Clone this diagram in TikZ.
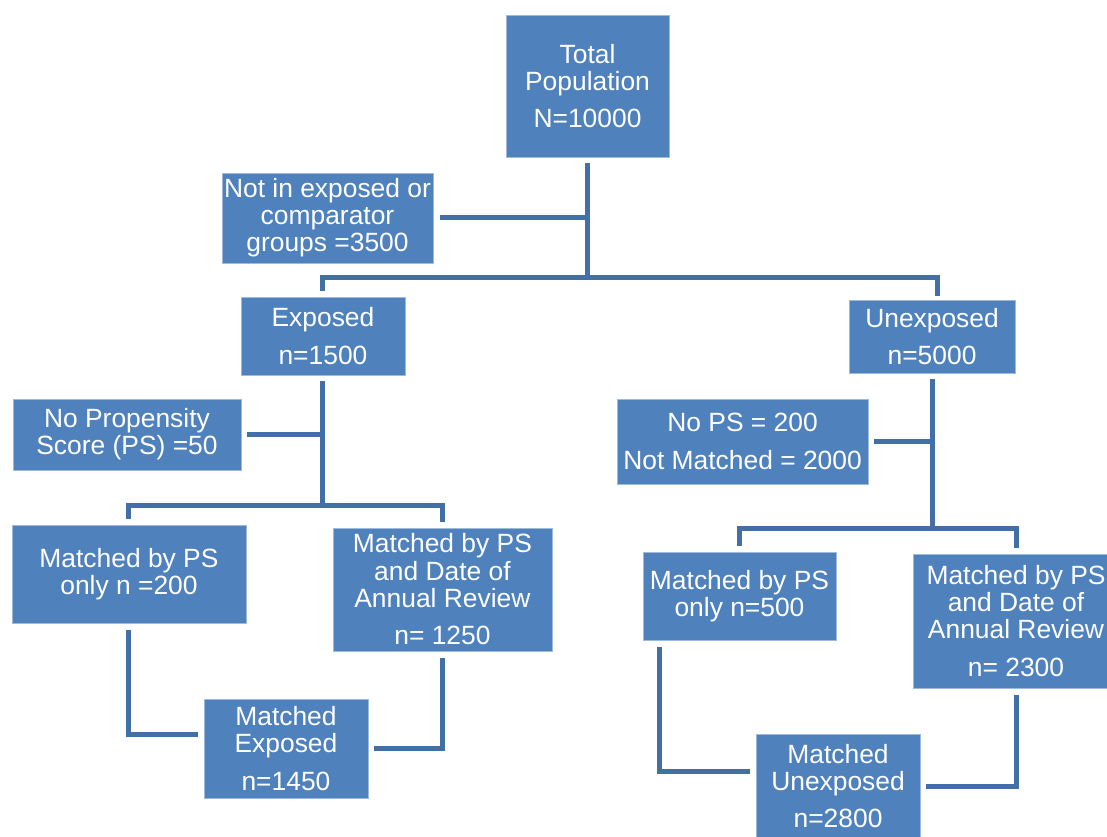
\documentclass[tikz,border=0pt]{standalone}
\usepackage{fontspec}
\setmainfont{Liberation Sans}
\usetikzlibrary{positioning}
\definecolor{boxblue}{RGB}{79,129,189}
\definecolor{lineblue}{RGB}{66,112,166}

\begin{document}
\begin{tikzpicture}[x=0.75pt,y=-0.75pt,on grid,
    box/.style={rectangle,fill=boxblue,draw=boxblue!55!white,line width=0.6pt,text=white,
      align=center,inner sep=0pt,font=\fontsize{19.8}{20.3}\selectfont},
    link/.style={draw=lineblue,line width=3.75pt}]
  \useasboundingbox (0,0) rectangle (1107,837);

  \node[box,minimum width=122.25pt,minimum height=106.5pt] (total) at (587.5,86) {Total\\Population\\[8pt]N=10000};
  \node[box,minimum width=158.25pt,minimum height=67.5pt]  (notin)  [below left=99pt and 195pt of total]     {Not in exposed or\\comparator\\groups =3500};
  \node[box,minimum width=123pt,minimum height=58.5pt]     (exp)    [below left=187.5pt and 198.4pt of total] {Exposed\\[8pt]n=1500};
  \node[box,minimum width=124.5pt,minimum height=54.75pt]  (unexp)  [below right=187.9pt and 258.4pt of total] {Unexposed\\[8pt]n=5000};
  \node[box,minimum width=171pt,minimum height=53.25pt]    (nops)   [below left=73.9pt and 147pt of exp]      {No Propensity\\Score (PS) =50};
  \node[box,minimum width=188.25pt,minimum height=63.75pt] (nops2)  [below left=78.75pt and 142.1pt of unexp] {No PS = 200\\[8pt]Not Matched = 2000};
  \node[box,minimum width=175.5pt,minimum height=73.5pt]   (mps1)   [below left=178.5pt and 145.5pt of exp]   {Matched by PS\\only n =200};
  \node[box,minimum width=164.25pt,minimum height=92.25pt] (mpsd1)  [below right=190.1pt and 89.6pt of exp]  {Matched by PS\\and Date of\\Annual Review\\[8pt]n= 1250};
  \node[box,minimum width=123pt,minimum height=74.25pt]    (mexp)   [below right=130.9pt and 117.75pt of mps1] {Matched\\Exposed\\[8pt]n=1450};
  \node[box,minimum width=144.75pt,minimum height=66pt]    (mps2)   [below left=194.6pt and 144.4pt of unexp] {Matched by PS\\only n=500};
  \node[box,minimum width=154.5pt,minimum height=100.5pt]  (mpsd2)  [below right=213.4pt and 63pt of unexp]   {Matched by PS\\and Date of\\Annual Review\\[8pt]n= 2300};
  \node[box,minimum width=123pt,minimum height=78pt]       (munexp) [below right=142.5pt and 73.9pt of mps2]  {Matched\\Unexposed\\[8pt]n=2800};

  % split of the total population
  \coordinate[below=90pt of total.south] (split1);
  \draw[link,shorten <=4.5pt] (total) -- (split1);
  \draw[link,shorten >=5pt] (split1 |- notin) -- (notin);
  \draw[link,shorten <=4pt,shorten >=3pt] (exp) |- (split1) -| ([xshift=3.75pt]unexp.north);

  % exposed
  \coordinate[below=97.5pt of exp.south] (split2);
  \draw[link,shorten <=4.5pt] (exp) -- (split2);
  \draw[link,shorten >=4.5pt] (split2 |- nops) -- (nops);
  \draw[link,shorten <=4.5pt,shorten >=4.5pt] (mps1) |- (split2) -| (mpsd1);

  % unexposed
  \coordinate[below=116.25pt of unexp.south] (split3);
  \draw[link,shorten <=4pt] (unexp) -- (split3);
  \draw[link,shorten >=4.5pt] (split3 |- nops2) -- (nops2);
  \draw[link,shorten <=4.5pt,shorten >=4.5pt] (mps2) |- (split3) -| (mpsd2);

  % matched groups
  \draw[link,shorten <=5pt,shorten >=4.5pt] (mps1) |- (mexp.170);
  \draw[link,shorten <=5pt,shorten >=4.5pt] (mpsd1) |- (mexp);
  \draw[link,shorten <=5pt,shorten >=4.5pt] ([xshift=12.75pt]mps2.south west) |- (munexp.170);
  \draw[link,shorten <=5pt,shorten >=4.5pt] (mpsd2) |- (munexp);
\end{tikzpicture}
\end{document}
